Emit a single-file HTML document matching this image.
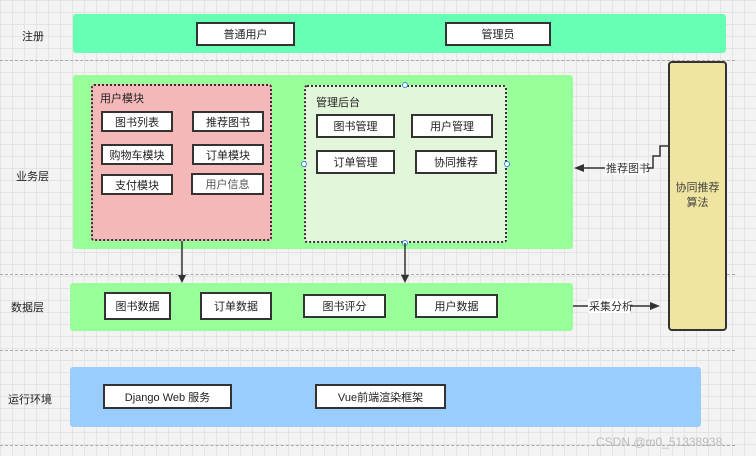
<!DOCTYPE html>
<html><head><meta charset="utf-8"><style>
*{margin:0;padding:0;box-sizing:border-box}
body{width:756px;height:456px;position:relative;overflow:hidden;background-color:#f3f3f3;
background-image:linear-gradient(#e4e4e4 1px,transparent 1px),linear-gradient(90deg,#e4e4e4 1px,transparent 1px);
background-size:12px 12px;font-family:"Liberation Sans","Noto Sans CJK SC",sans-serif;font-size:11px;color:#222}
.a{position:absolute}
.band{position:absolute;border-radius:3px}
.b{position:absolute;background:#fff;border:2px solid #333;display:flex;align-items:center;justify-content:center;font-size:11px;color:#222}
.lab{position:absolute;font-size:11px;color:#222}
.dash{position:absolute;left:0;width:735px;border-top:1px dashed #aaa}
.dot{position:absolute;width:6px;height:6px;border:1px solid #3b8beb;border-radius:50%;background:#fff}
</style></head><body>
<div class="dash" style="top:60px"></div>
<div class="dash" style="top:274px"></div>
<div class="dash" style="top:350px"></div>
<div class="dash" style="top:445px"></div>

<div class="lab" style="left:22px;top:28px">注册</div>
<div class="lab" style="left:16px;top:168px">业务层</div>
<div class="lab" style="left:11px;top:299px">数据层</div>
<div class="lab" style="left:8px;top:391px">运行环境</div>

<div class="band" style="left:73px;top:14px;width:653px;height:39px;background:#66ffb3"></div>
<div class="b" style="left:196px;top:22px;width:99px;height:24px">普通用户</div>
<div class="b" style="left:445px;top:22px;width:106px;height:24px">管理员</div>

<div class="band" style="left:73px;top:75px;width:500px;height:174px;background:#99ff99"></div>
<div class="a" style="left:91px;top:84px;width:181px;height:157px;background:#f4b8b8;border:2px dotted #333;border-radius:3px"></div>
<div class="lab" style="left:100px;top:90px">用户模块</div>
<div class="b" style="left:101px;top:111px;width:72px;height:21px">图书列表</div>
<div class="b" style="left:192px;top:111px;width:72px;height:21px">推荐图书</div>
<div class="b" style="left:101px;top:144px;width:72px;height:21px">购物车模块</div>
<div class="b" style="left:192px;top:144px;width:72px;height:21px">订单模块</div>
<div class="b" style="left:101px;top:174px;width:72px;height:21px">支付模块</div>
<div class="b" style="left:191px;top:173px;width:73px;height:22px;color:#555">用户信息</div>

<div class="a" style="left:304px;top:85px;width:203px;height:158px;background:#e2f6da;border:2px dotted #333;border-radius:3px"></div>
<div class="lab" style="left:316px;top:94px">管理后台</div>
<div class="b" style="left:316px;top:114px;width:79px;height:24px">图书管理</div>
<div class="b" style="left:411px;top:114px;width:82px;height:24px">用户管理</div>
<div class="b" style="left:316px;top:150px;width:79px;height:24px">订单管理</div>
<div class="b" style="left:415px;top:150px;width:82px;height:24px">协同推荐</div>
<div class="dot" style="left:402px;top:82px"></div>
<div class="dot" style="left:301px;top:161px"></div>
<div class="dot" style="left:504px;top:161px"></div>
<div class="dot" style="left:402px;top:240px"></div>

<div class="a" style="left:668px;top:61px;width:59px;height:270px;background:#efe4a0;border:2px solid #333;border-radius:4px;display:flex;align-items:center;justify-content:center;text-align:center;color:#444;font-size:11px;line-height:15px">协同推荐<br>算法</div>

<div class="band" style="left:70px;top:283px;width:503px;height:48px;background:#99ff99"></div>
<div class="b" style="left:104px;top:292px;width:67px;height:28px">图书数据</div>
<div class="b" style="left:200px;top:292px;width:72px;height:28px">订单数据</div>
<div class="b" style="left:303px;top:294px;width:83px;height:24px">图书评分</div>
<div class="b" style="left:415px;top:294px;width:83px;height:24px">用户数据</div>

<div class="band" style="left:70px;top:367px;width:631px;height:60px;background:#99ccff"></div>
<div class="b" style="left:103px;top:384px;width:129px;height:25px">Django Web 服务</div>
<div class="b" style="left:315px;top:384px;width:131px;height:25px">Vue前端渲染框架</div>

<svg class="a" style="left:0;top:0" width="756" height="456">
<g stroke="#333" stroke-width="1.5" fill="none">
<line x1="182" y1="241" x2="182" y2="276"/>
<line x1="405" y1="243" x2="405" y2="276"/>
<polyline points="668,146 660,146 660,156 653,156 653,168 584,168"/>
<line x1="573" y1="306" x2="650" y2="306"/>
</g>
<g fill="#333">
<polygon points="178,275 186,275 182,283"/>
<polygon points="401,275 409,275 405,283"/>
<polygon points="574,168 584,164 584,172"/>
<polygon points="660,306 650,302 650,310"/>
</g>
<rect x="605" y="161" width="42" height="14" fill="#fff"/>
<text x="606" y="172" font-size="11" fill="#333" font-family="Liberation Sans,Noto Sans CJK SC,sans-serif">推荐图书</text>
<rect x="588" y="299" width="42" height="14" fill="#fff"/>
<text x="589" y="310" font-size="11" fill="#333" font-family="Liberation Sans,Noto Sans CJK SC,sans-serif">采集分析</text>
<text x="596" y="446" font-size="12" fill="#bbb" font-family="Liberation Sans,sans-serif">CSDN @m0_51338938</text>
</svg>
</body></html>
